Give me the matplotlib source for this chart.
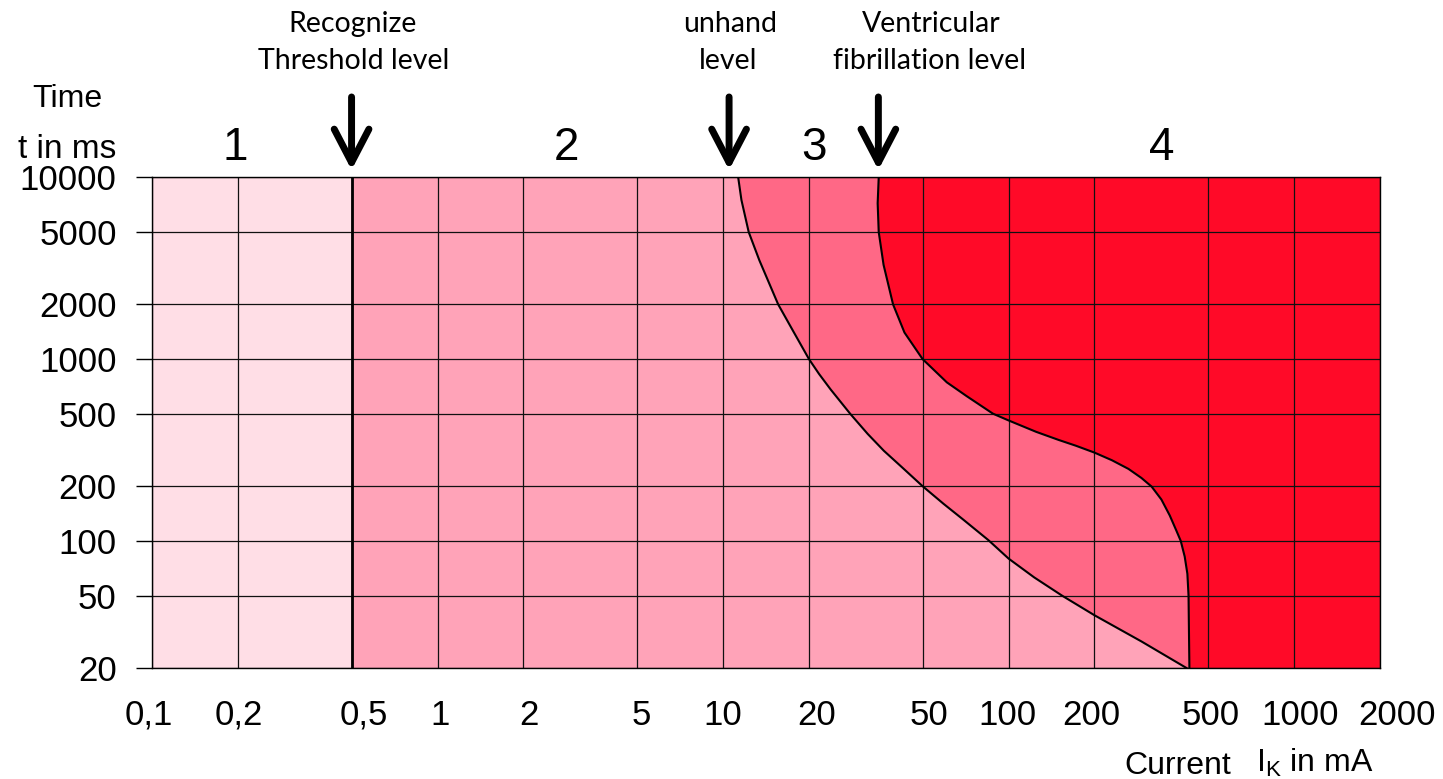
import matplotlib.pyplot as plt
from matplotlib.transforms import ScaledTranslation

plt.rcParams.update({
    "font.family": "Liberation Sans",
    "mathtext.default": "regular",
})

W, H = 1443, 779  # output size in px (dpi 100)

# axis ticks
current_ticks = [0.1, 0.2, 0.5, 1, 2, 5, 10, 20, 50, 100, 200, 500, 1000, 2000]
current_labels = ["0,1", "0,2", "0,5", "1", "2", "5", "10", "20",
                  "50", "100", "200", "500", "1000", "2000"]
time_ticks = [20, 50, 100, 200, 500, 1000, 2000, 5000, 10000]

# zone borders (mA, ms), top to bottom
threshold_current = 0.5
unhand_current = [11.3, 11.6, 12.3, 13.4, 15.6, 17.5, 20, 21.7, 23.8, 27.9,
                  32.1, 36.6, 42.6, 50, 59.2, 69.4, 85, 100, 123, 154, 200,
                  292, 420]
unhand_time = [10000, 7500, 5000, 3500, 2000, 1450, 1000, 828, 682, 500,
               388, 313, 252, 200, 160, 131, 101, 80, 63, 50, 39, 28, 20]
vf_current = [35.1, 34.8, 35.1, 36.5, 39.4, 43.2, 50, 60.8, 71.3, 88.2, 100,
              125, 150, 172, 200, 230, 263, 292, 317, 343, 367, 387, 401,
              414, 423, 427, 430]
vf_time = [10000, 7200, 5000, 3300, 2000, 1400, 1000, 745, 626, 501, 460,
           398, 359, 334, 306, 278, 249, 222, 199, 169, 138, 114, 100,
           82, 66, 50, 20]

arrow_currents = [0.5, 10.5, 35]
zone_names = ["1", "2", "3", "4"]
zone_colors = ["#FFDEE6", "#FFA3B8", "#FF6886", "#FF0A28"]

x_min, x_max = current_ticks[0], current_ticks[-1]
y_min, y_max = time_ticks[0], time_ticks[-1]


def fx(px):
    return px / W


def fy(py):
    return 1 - py / H


fig = plt.figure(figsize=(W / 100, H / 100), dpi=100)
ax = fig.add_axes([fx(152), fy(668), (1380 - 152) / W, (668 - 177.3) / H])
ax.set_xscale("log")
ax.set_yscale("log")
ax.set_xlim(x_min, x_max)
ax.set_ylim(y_min, y_max)

# zones
ax.axvspan(x_min, threshold_current, color=zone_colors[0], lw=0)
ax.fill([threshold_current] + unhand_current + [threshold_current],
        [y_max] + unhand_time + [y_min], color=zone_colors[1], lw=0)
ax.fill(unhand_current + vf_current[::-1], unhand_time + vf_time[::-1],
        color=zone_colors[2], lw=0)
ax.fill(vf_current + [x_max, x_max], vf_time + [y_min, y_max],
        color=zone_colors[3], lw=0)

ax.axvline(threshold_current, color="black", lw=2)
ax.plot(unhand_current, unhand_time, color="black", lw=1.5)
ax.plot(vf_current, vf_time, color="black", lw=1.5)

ax.set_xticks(current_ticks, current_labels)
ax.set_yticks(time_ticks, [str(t) for t in time_ticks])
ax.minorticks_off()
ax.grid(True, color="#111111", lw=0.9)
ax.set_axisbelow("line")
ax.tick_params(axis="x", length=0, pad=22, labelsize=25)
ax.tick_params(axis="y", length=11.5, width=1, pad=14, labelsize=25)
for s in ax.spines.values():
    s.set_linewidth(1)

# the x labels in the original sit a little off their grid lines
label_shift = [-3, 1, 12, 3, 5, 4, 0, 8, 6, -1, -3, 3, 6, 17]
for tick, dx in zip(ax.xaxis.get_major_ticks(), label_shift):
    lbl = tick.label1
    lbl.set_transform(lbl.get_transform()
                      + ScaledTranslation(dx / 100, 0, fig.dpi_scale_trans))

# zone numbers above the plot
for name, px in zip(zone_names, [235, 566, 814, 1162]):
    fig.text(fx(px), fy(160), name, fontsize=33, ha="center", va="baseline")

# arrows and their captions
for c in arrow_currents:
    ax.annotate("", xy=(c, 1.0149), xycoords=("data", "axes fraction"),
                xytext=(c, 1.1637), textcoords=("data", "axes fraction"),
                arrowprops=dict(arrowstyle="->,head_length=24,head_width=12.5",
                                lw=5, color="black", shrinkA=0, shrinkB=0,
                                mutation_scale=1))

captions = [
    ("Recognize", 352.5, 31.7), ("Threshold level", 354, 69),
    ("unhand", 730, 31.7), ("level", 728, 69),
    ("Ventricular", 931, 31.7), ("fibrillation level", 930, 69),
]
for txt, px, py in captions:
    fig.text(fx(px), fy(py), txt, fontsize=20.5, family="Lato",
             ha="center", va="baseline")

fig.text(fx(67), fy(107), "Time", fontsize=23, ha="center", va="baseline")
fig.text(fx(116), fy(158), "t in ms", fontsize=24, ha="right", va="baseline")
fig.text(fx(1124), fy(774), "Current", fontsize=23, va="baseline")
fig.text(fx(1256), fy(771.5), "$I_K$ in mA", fontsize=23, va="baseline")

fig.savefig("out.png", dpi=100)
